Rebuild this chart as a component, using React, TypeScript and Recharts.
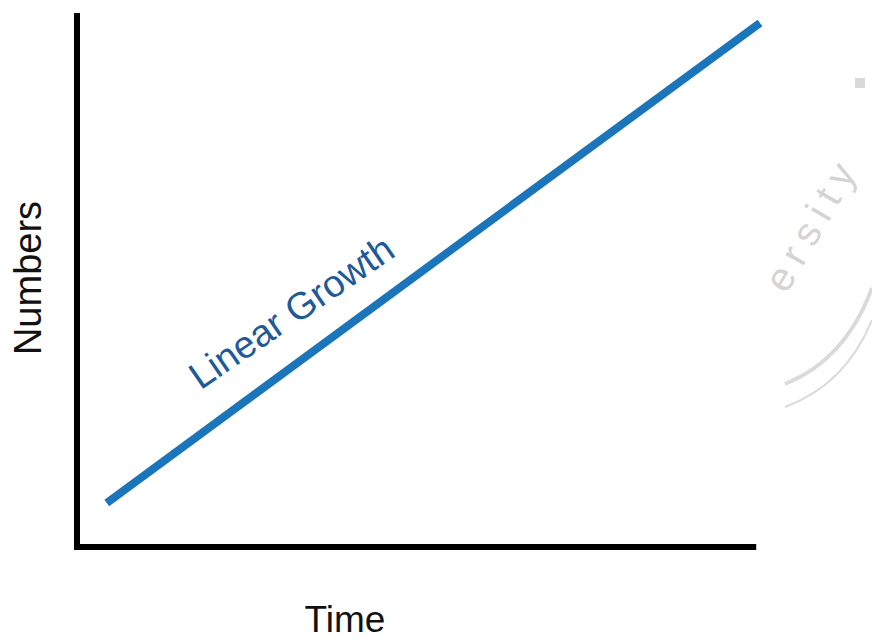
import { LineChart, Line, XAxis, YAxis, ReferenceLine, ReferenceDot } from 'recharts'

// two ends of the straight line
const TIME = [4.4, 101]
const NUMBERS = [8.3, 98.7]
const X_DOMAIN = [0, 101]
const Y_DOMAIN = [0, 100]
const AXIS_END = 100
const LABEL_AT = { t: 32.8, n: 42.2 }

const data = TIME.map((t, i) => ({ t, n: NUMBERS[i] }))

const FONT = '"Liberation Sans", Arial, Helvetica, sans-serif'

function TimeLabel() {
  return (
    <text x={345} y={632} textAnchor="middle" fontFamily={FONT} fontSize={37} fill="#111">
      Time
    </text>
  )
}

function NumbersLabel() {
  return (
    <text x={41} y={278} textAnchor="middle" fontFamily={FONT} fontSize={38} fill="#111" transform="rotate(-90 41 278)">
      Numbers
    </text>
  )
}

function GrowthLabel(props: any) {
  const { viewBox } = props
  const cx = viewBox.x + viewBox.width / 2
  const cy = viewBox.y + viewBox.height / 2
  return (
    <text x={cx} y={cy} textAnchor="middle" fontFamily={FONT} fontSize={38} fill="#1d5a97" transform={`rotate(-34.5 ${cx} ${cy})`}>
      Linear Growth
    </text>
  )
}

function Watermark() {
  return (
    <svg width={872} height={639} style={{ position: 'absolute', left: 0, top: 0, pointerEvents: 'none' }}>
      <path d="M785 384 Q845.5 360 872 288" fill="none" stroke="#dadada" strokeWidth={4} />
      <path d="M785 407 Q845.5 385 872 320" fill="none" stroke="#dadada" strokeWidth={2} />
      <rect x={855} y={78} width={10} height={10} fill="#dadada" />
      <text x={824} y={230} textAnchor="middle" fontFamily={FONT} fontSize={40} fill="#d4d4d4" letterSpacing={9} transform="rotate(-60 824 230)">
        ersity
      </text>
    </svg>
  )
}

export default function App() {
  return (
    <div style={{ position: 'absolute', left: 0, top: 0, width: 872, height: 639, background: '#fff' }}>
      <LineChart width={872} height={639} data={data} margin={{ top: 16, right: 112, bottom: 0, left: 0 }}>
        <XAxis
          dataKey="t"
          type="number"
          domain={X_DOMAIN}
          axisLine={false}
          tickLine={false}
          tick={false}
          height={92}
          label={<TimeLabel />}
        />
        <YAxis
          type="number"
          domain={Y_DOMAIN}
          axisLine={false}
          tickLine={false}
          tick={false}
          width={77}
          label={<NumbersLabel />}
        />
        <ReferenceLine
          segment={[{ x: 0, y: 0 }, { x: AXIS_END, y: 0 }]}
          stroke="#000"
          strokeWidth={6}
          strokeLinecap="square"
          ifOverflow="visible"
        />
        <ReferenceLine
          segment={[{ x: 0, y: 0 }, { x: 0, y: AXIS_END }]}
          stroke="#000"
          strokeWidth={6}
          strokeLinecap="square"
          ifOverflow="visible"
        />
        <Line
          dataKey="n"
          type="linear"
          stroke="#1b75bb"
          strokeWidth={8}
          dot={false}
          activeDot={false}
          isAnimationActive={false}
        />
        <ReferenceDot x={LABEL_AT.t} y={LABEL_AT.n} r={1} fill="none" stroke="none" label={<GrowthLabel />} />
      </LineChart>
      <Watermark />
    </div>
  )
}
